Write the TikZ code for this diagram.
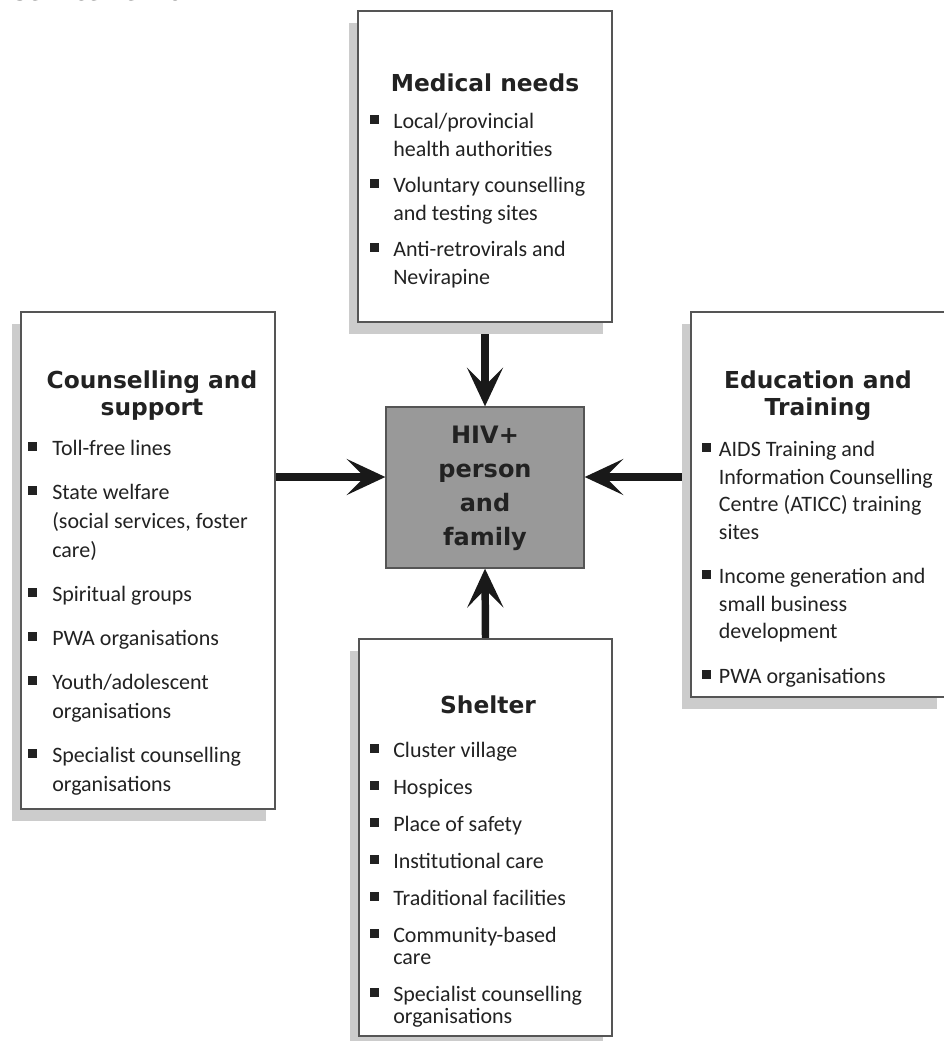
\documentclass[tikz,border=0pt]{standalone}
\usepackage{fontspec}
\setmainfont{Carlito}
\newfontfamily\headfont{DejaVu Sans}
\usetikzlibrary{arrows.meta,shadows,backgrounds,fit}

\definecolor{boxline}{HTML}{555555}
\definecolor{boxshadow}{HTML}{CCCCCC}
\definecolor{hubfill}{HTML}{999999}
\definecolor{inkdark}{HTML}{222222}

\newlength\itmind
\newcommand\bul{\makebox[\itmind][l]{\rule[3.2pt]{6.8pt}{6.8pt}}}
\newcommand\ind{\hspace*{\itmind}}

\tikzset{
	panel/.style={draw=boxline, line width=1pt, fill=white, inner sep=0pt,
		general shadow={fill=boxshadow, shadow xshift=-6.75pt, shadow yshift=-9pt}},
	hub/.style={draw=boxline, line width=1pt, fill=hubfill, inner sep=0pt,
		text=inkdark, align=center, font=\headfont\bfseries\fontsize{18}{25.5}\selectfont},
	heading/.style={anchor=base, align=center, inner sep=0pt, text=inkdark,
		font=\headfont\bfseries\fontsize{17.5}{20.25}\selectfont},
	itemlist/.style 2 args={anchor=base west, align=left, inner sep=0pt, text=inkdark,
		font=\fontsize{16.5}{#1}\selectfont, execute at begin node={\setlength\itmind{#2}}},
	feed/.style={line width=5.6pt, color=black!90,
		-{Stealth[length=29pt, width=27pt, inset=13.5pt]}}
}

\begin{document}
\begin{tikzpicture}[x=0.75pt, y=-0.75pt]
	\useasboundingbox (0, 0) rectangle (944, 1041);

	\node[anchor=base west, inner sep=0pt, font=\headfont\bfseries\fontsize{16}{19}\selectfont]
		(title) at (12, 1) {Service network};

	% the four panels and the hub
	\node[panel, fit={(358, 11) (612, 322)}] (med) {};
	\node[panel, fit={(21, 312) (275, 809)}] (couns) {};
	\node[panel, fit={(691, 312) (946, 697)}] (edu) {};
	\node[panel, fit={(359, 639) (612, 1036)}] (shel) {};
	\node[hub, fit={(386, 407) (584, 568)}] (hub) {};
	\node[hub, draw=none, fill=none, anchor=base] (hubtext) at (485, 545) {HIV+\\person\\and\\family};

	\coordinate (lvl) at (0, 477);
	\begin{scope}[on background layer]
		\draw[feed] (med.south) -- (hub.north);
		\draw[feed] (shel.north) -- (hub.south);
		\draw[feed] (couns.east |- lvl) -- (hub.west |- lvl);
		\draw[feed] (edu.west |- lvl) -- (hub.east |- lvl);
	\end{scope}

	% medical needs (lists sit on the baseline of their last line)
	\node[heading] (medhead) at (485, 92) {Medical needs};
	\node[itemlist={21pt}{17.25pt}] (medlist) at (370, 284) {%
		\bul Local/provincial\\ \ind health authorities\\[6pt]
		\bul Voluntary counselling\\ \ind and testing sites\\[6pt]
		\bul Anti-retrovirals and\\ \ind Nevirapine};

	% counselling and support
	\node[heading] (counshead) at (152, 415) {Counselling and\\support};
	\node[itemlist={21.75pt}{18pt}] (counslist) at (28, 791) {%
		\bul Toll-free lines\\[11.25pt]
		\bul State welfare\\ \ind (social services, foster\\ \ind care)\\[11.25pt]
		\bul Spiritual groups\\[11.25pt]
		\bul PWA organisations\\[11.25pt]
		\bul Youth/adolescent\\ \ind organisations\\[11.25pt]
		\bul Specialist counselling\\ \ind organisations};

	% education and training
	\node[heading] (eduhead) at (818, 415) {Education and\\Training};
	\node[itemlist={20.6pt}{12.5pt}] (edulist) at (702, 683) {%
		\bul AIDS Training and\\ \ind Information Counselling\\ \ind Centre (ATICC) training\\ \ind sites\\[12.75pt]
		\bul Income generation and\\ \ind small business\\ \ind development\\[12.75pt]
		\bul PWA organisations};

	% shelter
	\node[heading] (shelhead) at (488, 713) {Shelter};
	\node[itemlist={16.5pt}{17.25pt}] (shellist) at (370, 1023) {%
		\bul Cluster village\\[11.25pt]
		\bul Hospices\\[11.25pt]
		\bul Place of safety\\[11.25pt]
		\bul Institutional care\\[11.25pt]
		\bul Traditional facilities\\[11.25pt]
		\bul Community-based\\ \ind care\\[11.25pt]
		\bul Specialist counselling\\ \ind organisations};
\end{tikzpicture}
\end{document}
